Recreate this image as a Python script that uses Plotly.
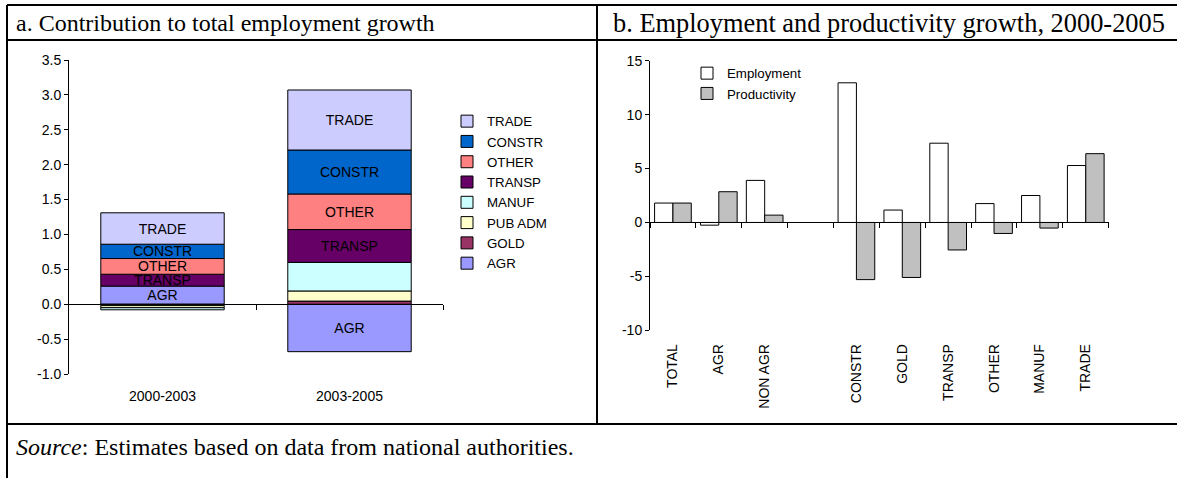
import plotly.graph_objects as go

# panel a: contribution to total employment growth (percentage points)
periods = ["2000-2003", "2003-2005"]
sectors = ["AGR", "GOLD", "PUB ADM", "MANUF", "TRANSP", "OTHER", "CONSTR", "TRADE"]
contrib = {
    "AGR":     [0.26, -0.68],
    "GOLD":    [-0.02, 0.045],
    "PUB ADM": [-0.03, 0.145],
    "MANUF":   [-0.03, 0.41],
    "TRANSP":  [0.17, 0.47],
    "OTHER":   [0.225, 0.51],
    "CONSTR":  [0.205, 0.63],
    "TRADE":   [0.45, 0.86],
}
labelled = ["AGR", "TRANSP", "OTHER", "CONSTR", "TRADE"]
a_ticks = [-1.0, -0.5, 0.0, 0.5, 1.0, 1.5, 2.0, 2.5, 3.0, 3.5]

# panel b: employment and productivity growth, 2000-2005
groups = ["TOTAL", "AGR", "NON AGR", "", "CONSTR", "GOLD", "TRANSP", "OTHER", "MANUF", "TRADE"]
employment = [1.8, -0.25, 3.9, None, 12.95, 1.15, 7.35, 1.75, 2.5, 5.28]
productivity = [1.8, 2.85, 0.68, None, -5.3, -5.1, -2.55, -1.02, -0.52, 6.38]
b_ticks = [-10, -5, 0, 5, 10, 15]

colors = {
    "AGR": "#9999FF", "GOLD": "#993366", "PUB ADM": "#FFFFCC", "MANUF": "#CCFFFF",
    "TRANSP": "#660066", "OTHER": "#FF8080", "CONSTR": "#0066CC", "TRADE": "#CCCCFF",
}

W, H = 1177, 478
SANS = "Liberation Sans"
SERIF = "Liberation Serif"


def px_x(p):
    return p / W


def px_y(p):
    return 1 - p / H


# plot areas (pixels in the 1177x478 page)
a_dom_x = [px_x(69), px_x(443)]
a_dom_y = [px_y(374), px_y(60)]
a_range = [a_ticks[0], a_ticks[-1]]
b_dom_x = [px_x(650), px_x(1108.7)]
b_dom_y = [px_y(330.3), px_y(60.7)]
b_range = [b_ticks[0], b_ticks[-1]]


def zero_pos(dom, rng):
    return dom[0] + (0 - rng[0]) / (rng[1] - rng[0]) * (dom[1] - dom[0])


fig = go.Figure()

# stacked bars, positives up and negatives down (Excel style)
xa = list(range(len(periods)))
pos_base = [0.0] * len(periods)
neg_base = [0.0] * len(periods)
for s in sectors:
    vals = contrib[s]
    base = []
    for i, v in enumerate(vals):
        if v >= 0:
            base.append(pos_base[i])
            pos_base[i] += v
        else:
            base.append(neg_base[i])
            neg_base[i] += v
    fig.add_trace(go.Bar(
        x=xa, y=vals, base=base, name=s,
        width=0.66, offset=-0.33,
        marker=dict(color=colors[s], line=dict(color="#000000", width=1)),
        text=[s if s in labelled else "" for _ in vals],
        textposition="inside", insidetextanchor="middle", textangle=0,
        constraintext="none",
        insidetextfont=dict(family=SANS, size=14, color="#000000"),
        legend="legend", legendgroup=s,
        xaxis="x", yaxis="y", hoverinfo="skip",
    ))

xb = list(range(len(groups)))
fig.add_trace(go.Bar(
    x=xb, y=employment, name="Employment", width=0.4, offset=-0.4,
    marker=dict(color="#FFFFFF", line=dict(color="#000000", width=1)),
    legend="legend2", xaxis="x2", yaxis="y2", hoverinfo="skip",
))
fig.add_trace(go.Bar(
    x=xb, y=productivity, name="Productivity", width=0.4, offset=0.0,
    marker=dict(color="#C0C0C0", line=dict(color="#000000", width=1)),
    legend="legend2", xaxis="x2", yaxis="y2", hoverinfo="skip",
))

# empty traces so the zero-line axes get drawn
fig.add_trace(go.Scatter(x=[], y=[], xaxis="x3", yaxis="y", showlegend=False))
fig.add_trace(go.Scatter(x=[], y=[], xaxis="x4", yaxis="y2", showlegend=False))

tick_font = dict(family=SANS, size=14, color="#000000")
legend_font = dict(family=SANS, size=13.3, color="#000000")
ax_common = dict(showgrid=False, zeroline=False, fixedrange=True, automargin=False)

fig.update_layout(
    width=W, height=H,
    margin=dict(l=0, r=0, t=0, b=0, autoexpand=False),
    paper_bgcolor="#FFFFFF", plot_bgcolor="rgba(0,0,0,0)",
    barmode="overlay",
    font=tick_font,
    xaxis=dict(domain=a_dom_x, anchor="y", range=[-0.5, len(periods) - 0.5],
               tickvals=xa, ticktext=periods, ticks="", showline=False,
               ticklabelstandoff=12, tickfont=tick_font, **ax_common),
    yaxis=dict(domain=a_dom_y, anchor="x", range=a_range,
               tickvals=a_ticks, ticktext=[f"{v:.1f}" for v in a_ticks],
               showline=True, linecolor="#000000", linewidth=1, ticks="outside",
               ticklen=4, tickcolor="#000000", tickfont=tick_font, **ax_common),
    xaxis3=dict(overlaying="x", anchor="free", position=zero_pos(a_dom_y, a_range),
                range=[-0.5, len(periods) - 0.5],
                tickvals=[i + 0.5 for i in xa], showticklabels=False,
                showline=True, linecolor="#000000", linewidth=1, ticks="outside",
                ticklen=5, tickcolor="#000000", **ax_common),
    xaxis2=dict(domain=b_dom_x, anchor="y2", range=[-0.5, len(groups) - 0.5],
                tickvals=xb, ticktext=groups, ticks="", showline=False, tickangle=-90,
                ticklabelstandoff=10, tickfont=tick_font, **ax_common),
    yaxis2=dict(domain=b_dom_y, anchor="x2", range=b_range,
                tickvals=b_ticks, ticktext=[str(v) for v in b_ticks],
                showline=True, linecolor="#000000", linewidth=1, ticks="outside",
                ticklen=4, tickcolor="#000000", tickfont=tick_font, **ax_common),
    xaxis4=dict(overlaying="x2", anchor="free", position=zero_pos(b_dom_y, b_range),
                range=[-0.5, len(groups) - 0.5],
                tickvals=[i - 0.5 for i in xb] + [len(groups) - 0.5], showticklabels=False,
                showline=True, linecolor="#000000", linewidth=1, ticks="outside",
                ticklen=5, tickcolor="#000000", **ax_common),
    legend=dict(x=px_x(447), y=px_y(106), xanchor="left", yanchor="top",
                traceorder="reversed", font=legend_font, bgcolor="rgba(0,0,0,0)",
                tracegroupgap=0, itemclick=False, itemdoubleclick=False),
    legend2=dict(x=px_x(687), y=px_y(58), xanchor="left", yanchor="top",
                 font=legend_font, bgcolor="rgba(0,0,0,0)", itemclick=False,
                 itemdoubleclick=False),
    showlegend=True,
)

# table frame around the two panels
border = dict(color="#000000", width=2)
frame = [
    (7, 5, 1177, 5),
    (7, 40, 1177, 40),
    (7, 424, 1177, 424),
    (7, 5, 7, 478),
    (597, 5, 597, 424),
]
for x0, y0, x1, y1 in frame:
    fig.add_shape(type="line", xref="paper", yref="paper",
                  x0=px_x(x0), y0=px_y(y0), x1=px_x(x1), y1=px_y(y1), line=border)

fig.add_annotation(text="a. Contribution to total employment growth", xref="paper", yref="paper",
                   x=px_x(14), y=px_y(23), xanchor="left", yanchor="middle",
                   showarrow=False, font=dict(family=SERIF, size=24, color="#000000"))
fig.add_annotation(text="b. Employment and productivity growth, 2000-2005", xref="paper", yref="paper",
                   x=px_x(611), y=px_y(23), xanchor="left", yanchor="middle",
                   showarrow=False, font=dict(family=SERIF, size=26.4, color="#000000"))
fig.add_annotation(text="<i>Source</i>: Estimates based on data from national authorities.",
                   xref="paper", yref="paper", x=px_x(14), y=px_y(447),
                   xanchor="left", yanchor="middle", showarrow=False,
                   font=dict(family=SERIF, size=24, color="#000000"))

# drop the default page margin so the figure sits at the window origin
fig.write_html("out.html", config={"displayModeBar": False},
               post_script="document.body.style.margin='0';document.body.style.overflow='hidden';")
